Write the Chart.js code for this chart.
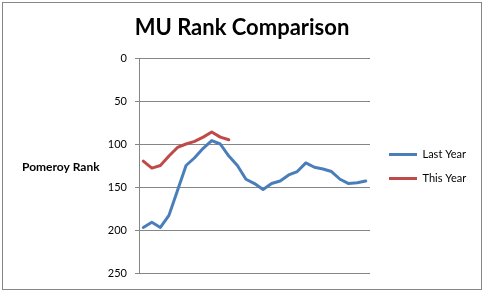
<!DOCTYPE html>
<html>
<head>
<meta charset="utf-8">
<script src="https://cdn.jsdelivr.net/npm/chart.js@4/dist/chart.umd.min.js"></script>
<style>
  html, body { margin: 0; padding: 0; background: #fff; }
  #wrap { position: relative; width: 484px; height: 293px; }
  #frame { position: absolute; left: 2px; top: 2px; width: 478px; height: 286px; border: 1px solid #868686; }
  #chart { position: absolute; left: 0; top: 0; }
</style>
</head>
<body>
<div id="wrap">
  <div id="frame"></div>
  <canvas id="chart" width="484" height="293"></canvas>
</div>
<script>
// games through the season (no labels shown on the axis)
const games = ["1","2","3","4","5","6","7","8","9","10","11","12","13","14","15","16","17","18","19","20","21","22","23","24","25","26","27"];
const lastYear = [197, 191, 197, 183, 154, 125, 116, 105, 96, 100, 114, 125, 141, 146, 153, 146, 143, 136, 132, 122, 127, 129, 132, 141, 146, 145, 143];
const thisYear = [120, 128, 125, 114, 104, 100, 97, 92, 86, 92, 95];
const rankTicks = [0, 50, 100, 150, 200, 250];

const blue = "#4a7ebb";
const red = "#be4b48";
const gray = "#868686";

// horizontal axis title on the left, like the Excel original
const yTitle = {
  id: "yTitle",
  afterDraw(chart) {
    const ctx = chart.ctx;
    const area = chart.chartArea;
    ctx.save();
    ctx.font = "bold 12px Lato";
    ctx.fillStyle = "#000";
    ctx.textAlign = "left";
    ctx.textBaseline = "middle";
    ctx.fillText("Pomeroy Rank", 22, (area.top + area.bottom) / 2 + 2);
    ctx.restore();
  }
};

// fixed legend column width and a small nudge
const legendPlace = {
  id: "legendPlace",
  beforeLayout(chart) {
    const lg = chart.legend;
    if (lg && !lg._patched) {
      const fit = lg.fit;
      lg.fit = function () { fit.call(this); this.width = 114; };
      lg._patched = true;
    }
  },
  afterLayout(chart) {
    const lg = chart.legend;
    lg.left += 6; lg.right += 6;
    lg.top += 30; lg.bottom += 30;
  }
};

new Chart(document.getElementById("chart"), {
  type: "line",
  data: {
    labels: games,
    datasets: [
      { label: "Last Year", data: lastYear, borderColor: blue, backgroundColor: blue, borderWidth: 3 },
      { label: "This Year", data: thisYear, borderColor: red, backgroundColor: red, borderWidth: 3 }
    ]
  },
  options: {
    responsive: false,
    animation: false,
    layout: { padding: { left: 0, right: 0, top: 0, bottom: 20 } },
    elements: {
      line: { tension: 0, borderJoinStyle: "round", borderCapStyle: "round" },
      point: { radius: 0, hoverRadius: 0 }
    },
    scales: {
      x: { display: false, offset: true },
      y: {
        reverse: true,
        min: 0,
        max: 250,
        afterFit(scale) { scale.width = 139; },
        afterBuildTicks(scale) { scale.ticks = rankTicks.map(v => ({ value: v })); },
        grid: { color: gray, lineWidth: 1, drawTicks: true, tickLength: 4, tickColor: gray },
        border: { display: true, color: gray, width: 1 },
        ticks: { color: "#000", padding: 8, font: { family: "Lato", size: 11 } }
      }
    },
    plugins: {
      title: {
        display: true,
        text: "MU Rank Comparison",
        color: "#000",
        font: { family: "Lato", size: 22, weight: "bold" },
        padding: { top: 15, bottom: 16.6 }
      },
      legend: {
        position: "right",
        labels: {
          color: "#000",
          font: { family: "Lato", size: 11 },
          usePointStyle: true,
          pointStyle: "line",
          pointStyleWidth: 28,
          boxWidth: 28,
          padding: 13
        }
      },
      tooltip: { enabled: false }
    }
  },
  plugins: [yTitle, legendPlace]
});
</script>
</body>
</html>
